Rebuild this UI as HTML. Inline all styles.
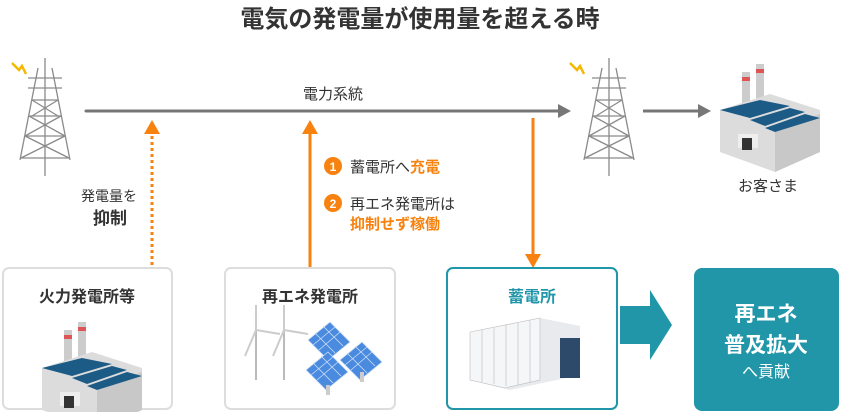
<!DOCTYPE html>
<html><head><meta charset="utf-8"><style>
html,body{margin:0;padding:0;background:#fff;}
body{width:841px;height:412px;overflow:hidden;font-family:"Liberation Sans","Noto Sans CJK JP",sans-serif;}
</style></head><body>
<svg width="841" height="412" viewBox="0 0 841 412" xmlns="http://www.w3.org/2000/svg" font-family="Liberation Sans, Noto Sans CJK JP, sans-serif">
<defs>
<g id="tower" stroke="#8a8a8a" stroke-width="1.3" fill="none">
<line x1="27" y1="0" x2="27" y2="118"/>
<line x1="20" y1="10" x2="2" y2="102"/><line x1="34" y1="10" x2="52" y2="102"/>
<line x1="10" y1="20" x2="44" y2="20"/><line x1="10" y1="30" x2="44" y2="30"/>
<line x1="14" y1="42" x2="40" y2="42"/><line x1="11" y1="58" x2="43" y2="58"/>
<line x1="7" y1="78" x2="47" y2="78"/><line x1="3" y1="100" x2="51" y2="100"/>
<path d="M14 42 L40 58 M40 42 L14 58 M11 58 L47 78 M43 58 L7 78 M7 78 L51 100 M47 78 L3 100"/>
</g>
<g id="factory">
<rect x="22" y="0" width="8" height="40" fill="#ccc"/><rect x="22" y="5" width="8" height="4" fill="#d55"/>
<rect x="36" y="-8" width="8" height="40" fill="#ccc"/><rect x="36" y="-3" width="8" height="4" fill="#d55"/>
<path d="M0 38 L50 22 L100 38 L100 80 L55 100 L0 80Z" fill="#dcdcdc"/>
<path d="M55 58 L100 42 L100 80 L55 100Z" fill="#c8c8c8"/>
<path d="M0 38 L40 28 L70 34 L30 46Z" fill="#1d5b87"/>
<path d="M30 48 L70 36 L85 40 L45 54Z" fill="#1d5b87"/>
<path d="M45 56 L85 42 L100 46 L55 60Z" fill="#1d5b87"/>
<rect x="18" y="62" width="20" height="14" fill="#eee"/><rect x="22" y="66" width="10" height="12" fill="#333"/>
</g>
<g id="panel" fill="#4a8be0" stroke="#cfe0f7" stroke-width="0.8">
<path d="M0 18 L22 0 L42 20 L20 38Z"/>
<path d="M7 11 L27 31 M15 4 L35 24 M11 28 L32 10 M5 23 L27 5" fill="none"/>
</g>
</defs>
<text x="420" y="27" text-anchor="middle" font-size="24" font-weight="bold" fill="#333">電気の発電量が使用量を超える時</text>
<use href="#tower" x="18" y="58"/>
<use href="#tower" x="582" y="58"/>
<path d="M12 63 L19 70 L22 66 L26 74" stroke="#f5b800" stroke-width="2.5" fill="none"/>
<path d="M570 63 L577 70 L580 66 L584 74" stroke="#f5b800" stroke-width="2.5" fill="none"/>
<line x1="86" y1="111" x2="560" y2="111" stroke="#777" stroke-width="3" stroke-linecap="round"/>
<path d="M558 104 L571 111 L558 118Z" fill="#777"/>
<line x1="643" y1="111" x2="700" y2="111" stroke="#777" stroke-width="3"/>
<path d="M698 104 L711 111 L698 118Z" fill="#777"/>
<text x="333" y="99" text-anchor="middle" font-size="15" fill="#333">電力系統</text>
<use href="#factory" x="720" y="72"/>
<text x="768" y="191" text-anchor="middle" font-size="15" fill="#333">お客さま</text>
<line x1="152" y1="136" x2="152" y2="268" stroke="#f7820f" stroke-width="3" stroke-dasharray="3,3"/>
<path d="M144 134 L152 120 L160 134Z" fill="#f7820f"/>
<text x="109" y="201" text-anchor="middle" font-size="14" fill="#333">発電量を</text>
<text x="110" y="224" text-anchor="middle" font-size="17" font-weight="bold" fill="#333">抑制</text>
<line x1="310" y1="132" x2="310" y2="268" stroke="#f7820f" stroke-width="3"/>
<path d="M302 134 L310 120 L318 134Z" fill="#f7820f"/>
<line x1="533" y1="118" x2="533" y2="256" stroke="#f7820f" stroke-width="3"/>
<path d="M525 254 L533 268 L541 254Z" fill="#f7820f"/>
<circle cx="333" cy="166" r="9" fill="#f7820f"/><text x="333" y="171" text-anchor="middle" font-size="12" font-weight="bold" fill="#fff">1</text>
<text x="350" y="172" font-size="15" fill="#333">蓄電所へ<tspan fill="#f7820f" font-weight="bold">充電</tspan></text>
<circle cx="333" cy="203" r="9" fill="#f7820f"/><text x="333" y="208" text-anchor="middle" font-size="12" font-weight="bold" fill="#fff">2</text>
<text x="350" y="209" font-size="15" fill="#333">再エネ発電所は</text>
<text x="350" y="229" font-size="15" font-weight="bold" fill="#f7820f">抑制せず稼働</text>
<rect x="3" y="268" width="169" height="141" rx="6" fill="#fff" stroke="#ddd" stroke-width="2"/>
<rect x="225" y="268" width="170" height="141" rx="6" fill="#fff" stroke="#ddd" stroke-width="2"/>
<rect x="447" y="268" width="170" height="141" rx="6" fill="#fff" stroke="#2096a8" stroke-width="2"/>
<rect x="694" y="268" width="145" height="143" rx="8" fill="#2096a8"/>
<text x="87" y="302" text-anchor="middle" font-size="16" font-weight="bold" fill="#333">火力発電所等</text>
<text x="310" y="302" text-anchor="middle" font-size="16" font-weight="bold" fill="#333">再エネ発電所</text>
<text x="532" y="302" text-anchor="middle" font-size="16" font-weight="bold" fill="#2096a8">蓄電所</text>
<use href="#factory" x="42" y="330" transform="translate(0,0)"/>
<g stroke="#bbb" stroke-width="2"><line x1="256" y1="330" x2="256" y2="380"/><line x1="284" y1="330" x2="284" y2="380"/></g>
<g stroke="#ccc" stroke-width="2"><path d="M256 330 L256 305 M256 330 L245 356 M256 330 L280 334"/><path d="M284 330 L284 305 M284 330 L273 356 M284 330 L308 334"/></g>
<use href="#panel" x="308" y="322"/><use href="#panel" x="340" y="342"/><use href="#panel" x="306" y="352"/>
<rect x="326" y="385" width="4" height="10" fill="#ccc"/><rect x="360" y="372" width="4" height="10" fill="#ccc"/>
<path d="M470 332 L540 318 L580 326 L580 375 L510 390 L470 380Z" fill="#e8eaee"/>
<path d="M470 332 L540 318 L540 380 L505 388 L470 380Z" fill="#f5f6f8" stroke="#bbb" stroke-width="0.6"/>
<g stroke="#c5c8cc" stroke-width="0.8"><line x1="482" y1="330" x2="482" y2="382"/><line x1="494" y1="328" x2="494" y2="384"/><line x1="506" y1="325" x2="506" y2="386"/><line x1="518" y1="323" x2="518" y2="385"/><line x1="530" y1="320" x2="530" y2="383"/></g>
<rect x="560" y="338" width="20" height="40" fill="#2d4a6a"/>
<path d="M620 306 L650 306 L650 290 L672 325 L650 360 L650 344 L620 344Z" fill="#2096a8"/>
<text x="766" y="321" text-anchor="middle" font-size="21" font-weight="bold" fill="#fff">再エネ</text>
<text x="766" y="352" text-anchor="middle" font-size="21" font-weight="bold" fill="#fff">普及拡大</text>
<text x="766" y="377" text-anchor="middle" font-size="16" fill="#fff">へ貢献</text>
</svg>
</body></html>
